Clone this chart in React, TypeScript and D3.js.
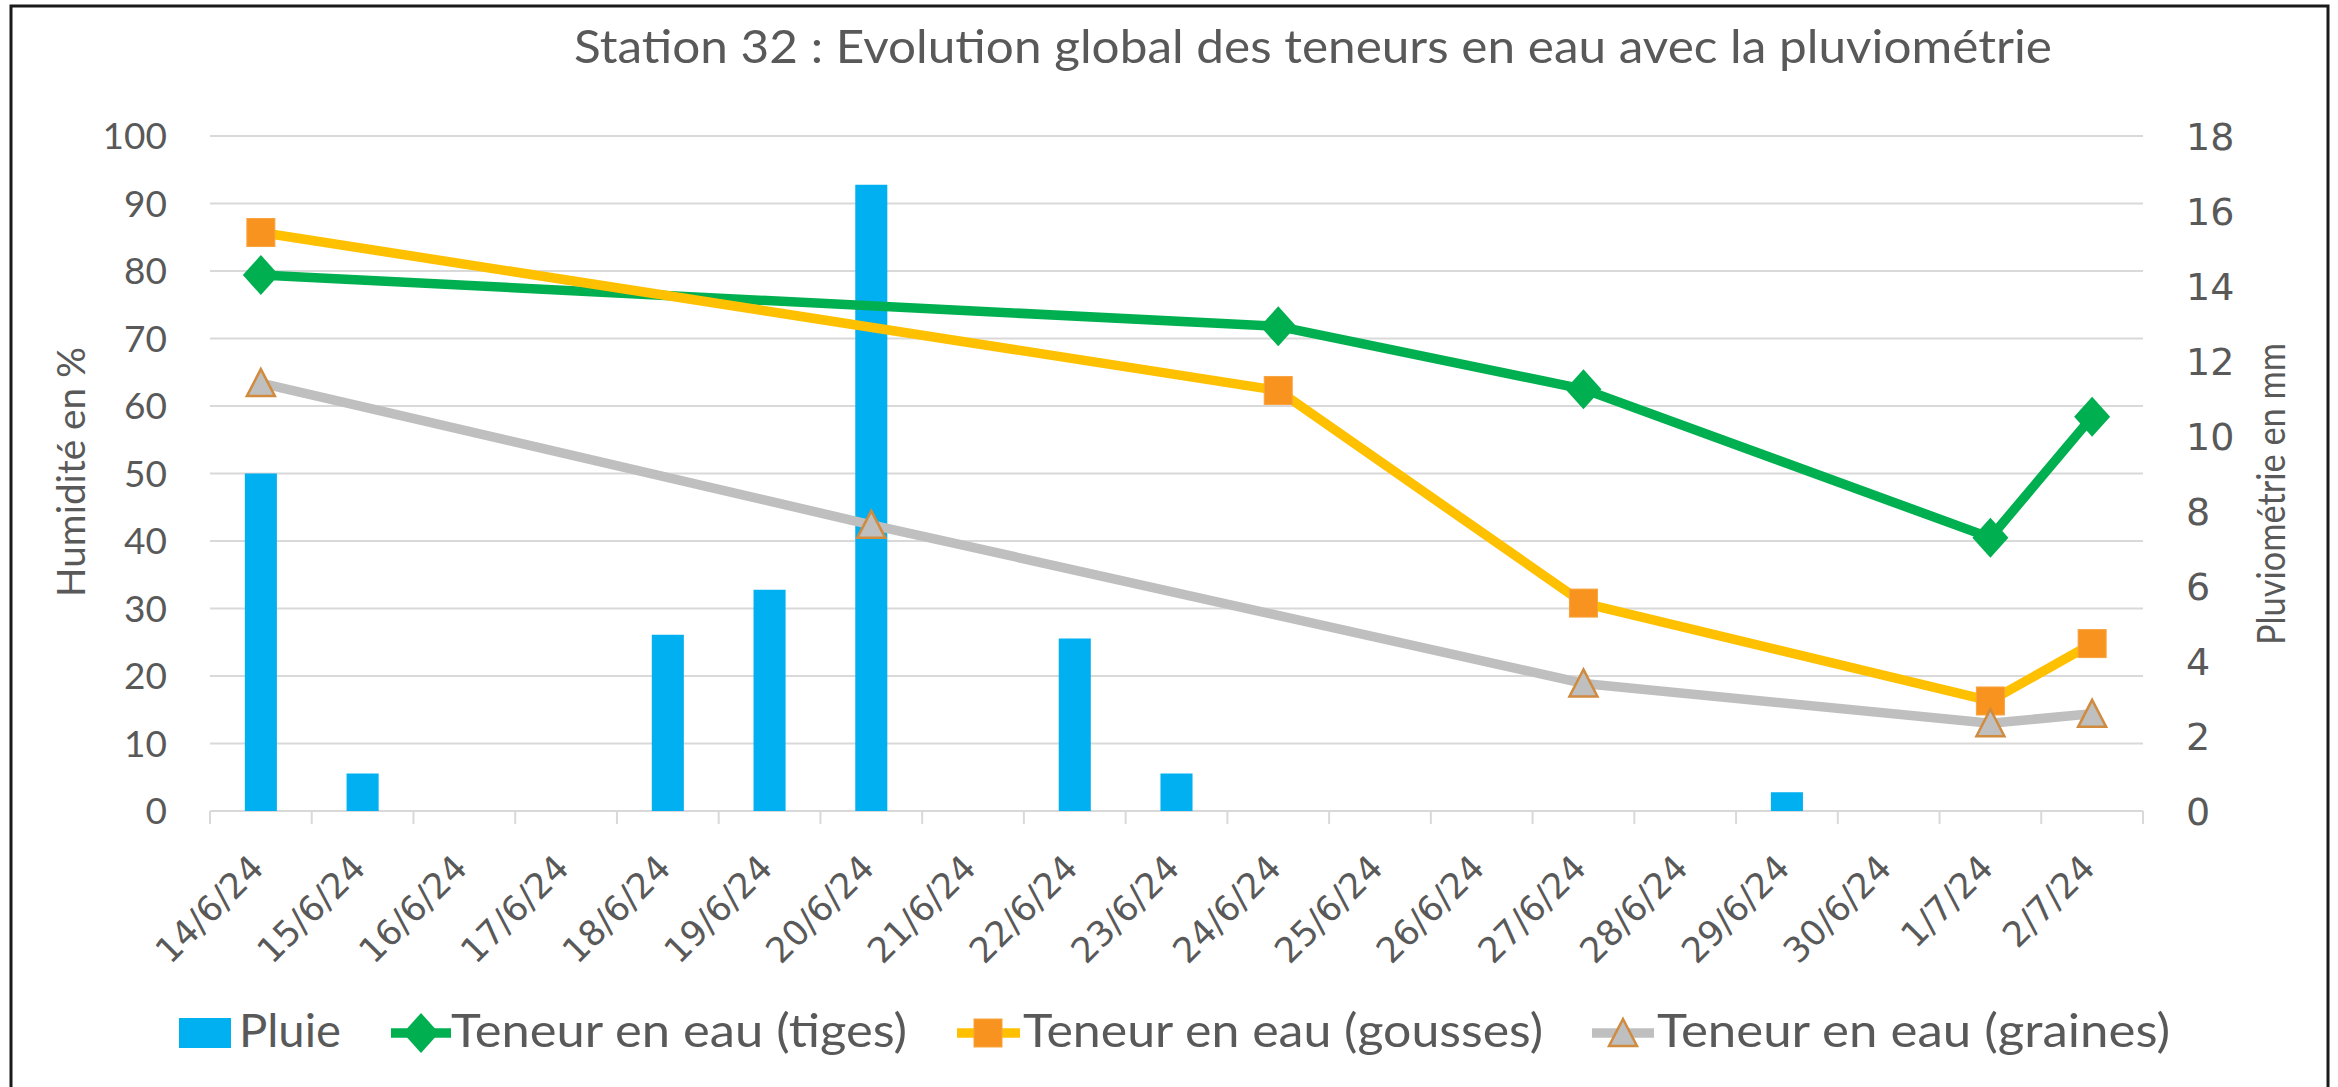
import React from 'react';
import * as d3 from 'd3';

const categories = [
  '14/6/24', '15/6/24', '16/6/24', '17/6/24', '18/6/24', '19/6/24', '20/6/24',
  '21/6/24', '22/6/24', '23/6/24', '24/6/24', '25/6/24', '26/6/24', '27/6/24',
  '28/6/24', '29/6/24', '30/6/24', '1/7/24', '2/7/24',
];

// pluie en mm (axe de droite)
const pluie = [9.0, 1.0, null, null, 4.7, 5.9, 16.7, null, 4.6, 1.0, null, null, null, null, null, 0.5, null, null, null];

// teneurs en eau en % (axe de gauche)
const tiges = [79.4, null, null, null, null, null, null, null, null, null, 71.8, null, null, 62.5, null, null, null, 40.5, 58.4];
const gousses = [85.7, null, null, null, null, null, null, null, null, null, 62.3, null, null, 30.8, null, null, null, 16.3, 24.8];
const graines = [63.4, null, null, null, null, null, 42.4, null, null, null, null, null, null, 18.9, null, null, null, 13.0, 14.4];

const title = 'Station 32 : Evolution global des teneurs en eau avec la pluviométrie';
const leftTitle = 'Humidité en %';
const rightTitle = 'Pluviométrie en mm';
const legendLabels = ['Pluie', 'Teneur en eau (tiges)', 'Teneur en eau (gousses)', 'Teneur en eau (graines)'];

const W = 2338;
const H = 1087;
const left = 210;
const right = 2143;
const top = 136;
const bottom = 811;

const txt = '#595959';
const grid = '#d9d9d9';
const blue = '#00B0F0';
const green = '#00B050';
const gold = '#FFC000';
const orange = '#F7931E';
const grey = '#BFBFBF';
const triStroke = '#D08B3F';
const calibri = 'Lato, "Open Sans", sans-serif';
const verdana = '"DejaVu Sans", Verdana, sans-serif';
const lineW = 9.5;

type Kind = 'diamond' | 'square' | 'triangle';

const Marker = ({ kind, x, y }: { kind: Kind; x: number; y: number }) => {
  if (kind === 'diamond') {
    return <path d={`M${x},${y - 20}L${x + 18},${y}L${x},${y + 20}L${x - 18},${y}Z`} fill={green} />;
  }
  if (kind === 'square') {
    return <rect x={x - 14} y={y - 14} width={28} height={28} fill={orange} stroke="#F8A33F" strokeWidth={1} />;
  }
  return (
    <path d={`M${x},${y - 14}L${x + 14},${y + 13}L${x - 14},${y + 13}Z`} fill={grey} stroke={triStroke} strokeWidth={2.5} strokeLinejoin="miter" />
  );
};

const series: { name: string; values: (number | null)[]; color: string; kind: Kind }[] = [
  { name: legendLabels[1], values: tiges, color: green, kind: 'diamond' },
  { name: legendLabels[2], values: gousses, color: gold, kind: 'square' },
  { name: legendLabels[3], values: graines, color: grey, kind: 'triangle' },
];

export default function App() {
  const x = d3.scaleBand<string>().domain(categories).range([left, right]).padding(0);
  const bw = x.bandwidth();
  const cx = (i: number) => (x(categories[i]) as number) + bw / 2;
  const yLeft = d3.scaleLinear().domain([0, 100]).range([bottom, top]);
  const yRight = d3.scaleLinear().domain([0, 18]).range([bottom, top]);
  const barW = bw * 0.315;

  const line = d3
    .line<{ i: number; v: number }>()
    .x((d) => cx(d.i))
    .y((d) => yLeft(d.v));

  const pts = (vals: (number | null)[]) =>
    vals.map((v, i) => ({ i, v })).filter((d) => d.v !== null) as { i: number; v: number }[];

  const boundaries = d3.range(categories.length + 1).map((i) => left + i * bw);

  // legend layout
  const legY = 1033;
  const legendItems = [
    { x0: 391, x1: 451, mx: 421, tx: 451, tl: 456 },
    { x0: 957, x1: 1020, mx: 988, tx: 1023, tl: 520 },
    { x0: 1592, x1: 1654, mx: 1623, tx: 1657, tl: 513 },
  ];

  return (
    <svg width={W} height={H} style={{ position: 'absolute', left: 0, top: 0, display: 'block' }}>
      <rect x={0} y={0} width={W} height={H} fill="#fff" />
      <rect x={11} y={6} width={2317} height={1110} fill="none" stroke="#1a1a1a" strokeWidth={3} />

      <text x={574} y={63} fontFamily={calibri} fontSize={47} fill={txt} textLength={1478} lengthAdjust="spacingAndGlyphs">
        {title}
      </text>

      {/* gridlines */}
      {yLeft.ticks(10).map((t) => (
        <line key={t} x1={left} x2={right} y1={yLeft(t)} y2={yLeft(t)} stroke={grid} strokeWidth={2} />
      ))}
      {boundaries.map((b, i) => (
        <line key={i} x1={b} x2={b} y1={bottom} y2={bottom + 13} stroke={grid} strokeWidth={2} />
      ))}

      {/* left axis */}
      {yLeft.ticks(10).map((t) => (
        <text key={t} x={167} y={yLeft(t)} dy="0.36em" textAnchor="end" fontFamily={calibri} fontSize={37} fill={txt}>
          {t}
        </text>
      ))}
      <text
        transform={`translate(85,472) rotate(-90)`}
        textAnchor="middle"
        fontFamily={calibri}
        fontSize={38}
        fill={txt}
        textLength={250}
        lengthAdjust="spacingAndGlyphs"
      >
        {leftTitle}
      </text>

      {/* right axis */}
      {yRight.ticks(9).map((t) => (
        <text key={t} x={2186} y={yRight(t)} dy="0.36em" textAnchor="start" fontFamily={verdana} fontSize={38} fill={txt}>
          {t}
        </text>
      ))}
      <text
        transform={`translate(2285,494) rotate(-90)`}
        textAnchor="middle"
        fontFamily={calibri}
        fontSize={38}
        fill={txt}
        textLength={302}
        lengthAdjust="spacingAndGlyphs"
      >
        {rightTitle}
      </text>

      {/* x labels */}
      {categories.map((c, i) => (
        <text
          key={c}
          transform={`translate(${cx(i) - 4},${bottom + 50}) rotate(-45)`}
          textAnchor="end"
          dy="0.36em"
          fontFamily={verdana}
          fontSize={35}
          fill={txt}
        >
          {c}
        </text>
      ))}

      {/* bars */}
      {pluie.map((v, i) =>
        v === null ? null : (
          <rect key={i} x={cx(i) - barW / 2} y={yRight(v)} width={barW} height={bottom - yRight(v)} fill={blue} />
        )
      )}

      {/* lines */}
      {series.map((s) => (
        <g key={s.name}>
          <path d={line(pts(s.values)) || ''} fill="none" stroke={s.color} strokeWidth={lineW} strokeLinejoin="round" />
          {pts(s.values).map((d) => (
            <Marker key={d.i} kind={s.kind} x={cx(d.i)} y={yLeft(d.v)} />
          ))}
        </g>
      ))}

      {/* legend */}
      <rect x={179} y={1018} width={52} height={30} fill={blue} />
      <text x={239} y={1047} fontFamily={calibri} fontSize={47} fill={txt} textLength={102} lengthAdjust="spacingAndGlyphs">
        {legendLabels[0]}
      </text>
      {series.map((s, k) => {
        const it = legendItems[k];
        return (
          <g key={s.name}>
            <line x1={it.x0} x2={it.x1} y1={legY} y2={legY} stroke={s.color} strokeWidth={lineW} />
            <Marker kind={s.kind} x={it.mx} y={legY} />
            <text x={it.tx} y={1047} fontFamily={calibri} fontSize={47} fill={txt} textLength={it.tl} lengthAdjust="spacingAndGlyphs">
              {s.name}
            </text>
          </g>
        );
      })}
    </svg>
  );
}
